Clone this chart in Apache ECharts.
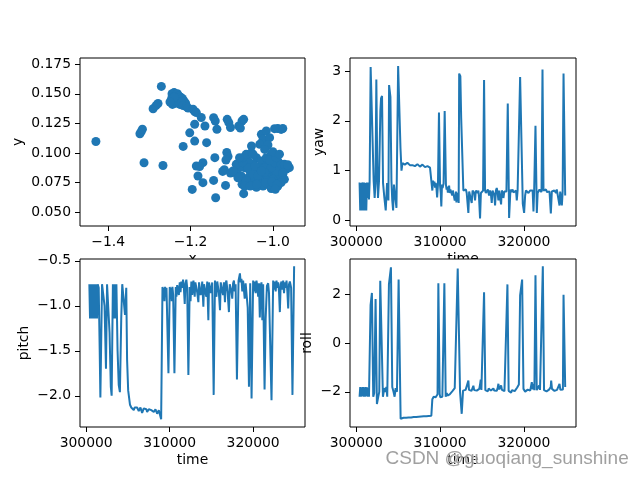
<!DOCTYPE html>
<html>
<head>
<meta charset="utf-8">
<script src="https://cdn.jsdelivr.net/npm/echarts@6/dist/echarts.min.js"></script>
<style>html,body{margin:0;padding:0;background:#fff}#c{width:640px;height:480px}</style>
</head>
<body>
<div id="c"></div>
<script>
// ---------- data ----------
const scatterXY = [
[-1.430,0.1097],[-1.271,0.1562],[-1.291,0.1373],[-1.284,0.1400],[-1.279,0.1418],
[-1.323,0.1162],[-1.320,0.1180],[-1.317,0.1201],[-1.313,0.0917],[-1.267,0.0894],
[-1.245,0.1500],[-1.240,0.1510],[-1.236,0.1490],[-1.232,0.1500],[-1.228,0.1480],[-1.224,0.1470],
[-1.220,0.1460],[-1.216,0.1440],[-1.212,0.1420],[-1.246,0.1460],[-1.242,0.1440],[-1.238,0.1420],
[-1.244,0.1410],[-1.234,0.1450],[-1.230,0.1430],[-1.226,0.1410],[-1.222,0.1430],[-1.218,0.1400],
[-1.210,0.1390],[-1.206,0.1380],[-1.240,0.1470],[-1.250,0.1430],
[-1.194,0.1369],[-1.190,0.1350],[-1.186,0.1341],[-1.174,0.1299],
[-1.190,0.1242],[-1.165,0.1228],[-1.144,0.1298],[-1.140,0.1270],[-1.136,0.1200],
[-1.111,0.1284],[-1.107,0.1256],[-1.103,0.1214],[-1.083,0.1228],[-1.075,0.1270],[-1.071,0.1284],[-1.079,0.1210],
[-1.202,0.1170],[-1.190,0.1100],[-1.218,0.1055],[-1.161,0.1087],
[-1.186,0.0890],[-1.170,0.0918],[-1.178,0.0886],[-1.141,0.0960],
[-1.182,0.0805],[-1.170,0.0749],[-1.196,0.0692],[-1.144,0.0768],[-1.115,0.0726],[-1.139,0.0622],
[-1.112,0.1004],[-1.109,0.0970],[-1.114,0.0940],
[-1.118,0.0858],[-1.122,0.0844],[-1.103,0.0830],
[-1.071,0.0656],[-1.075,0.0735],
[-1.040,0.0960],[-1.028,0.0932],[-1.016,0.0960],[-1.004,0.0988],[-1.000,0.0904],[-0.988,0.0932],
[-0.984,0.0876],[-1.008,0.0848],[-1.024,0.0819],[-1.040,0.0834],[-1.056,0.0848],[-1.069,0.0876],
[-1.081,0.0876],[-1.089,0.0904],[-1.093,0.0834],[-1.077,0.0806],[-1.060,0.0791],[-1.044,0.0777],
[-1.028,0.0763],[-1.012,0.0791],[-0.996,0.0806],[-0.984,0.0791],[-0.972,0.0777],[-0.992,0.0848],
[-1.032,0.0876],[-1.048,0.0904],[-1.060,0.0932],[-1.073,0.0918],[-1.085,0.0791],[-1.097,0.0848],
[-1.073,0.0960],[-1.065,0.0988],[-1.052,0.1003],[-1.081,0.0960],[-1.012,0.0904],[-1.020,0.0876],
[-1.004,0.0876],[-0.996,0.0918],[-0.980,0.0904],[-0.968,0.0862],[-0.976,0.0820],[-1.000,0.0777],
[-1.016,0.0735],[-1.036,0.0749],[-1.052,0.0735],[-1.065,0.0763],[-1.060,0.0870],[-1.048,0.0820],
[-1.036,0.0806],[-1.020,0.0834],[-1.008,0.0940],[-0.992,0.0960],[-1.044,0.0890],[-1.028,0.0848],
[-0.988,0.0720],[-0.980,0.0750],[-1.004,0.0700],[-1.024,0.0720],[-1.040,0.0710],[-1.069,0.0720],
[-1.052,0.1059],[-1.048,0.0988],[-1.028,0.1157],[-1.016,0.1185],[-1.024,0.1115],[-1.008,0.1129],
[-1.032,0.1073],[-1.012,0.1067],[-0.988,0.1207],[-0.976,0.1207],[-0.980,0.1199],[-0.996,0.1205],
[-1.020,0.1030],[-1.000,0.1010],[-0.984,0.0990],
[-0.960,0.0876],[-0.972,0.0904],[-0.976,0.0834],[-0.964,0.0900],
[-1.055,0.0721],[-1.039,0.0735],[-1.018,0.0749],[-1.002,0.0757],[-0.990,0.0735],[-0.994,0.0693]
];

const yawData = [
[300400,0.76],[300480,0.20],[300560,0.75],[300640,0.20],[300720,0.76],[300800,0.70],[300880,0.20],
[300960,0.76],[301040,0.20],[301120,0.75],[301200,0.20],[301280,0.76],[301360,0.45],[301440,0.76],
[301520,0.42],[301600,0.76],[301720,3.08],[301880,3.05],[302080,0.80],[302200,0.45],[302300,0.75],
[302400,2.83],[302520,0.90],[302600,0.45],[302720,0.80],[302880,2.20],[302960,2.45],[303080,2.50],
[303200,0.75],[303360,0.45],[303520,0.20],[303680,0.75],[303840,0.40],[303920,2.72],[304080,2.48],
[304200,0.80],[304300,0.40],[304400,0.20],[304500,0.72],[304600,0.75],[304700,0.40],[304800,0.25],
[305000,3.10],[305120,3.10],[305280,1.45],[305400,1.00],[305520,1.15],
[305600,1.13],[305700,1.16],[305800,1.12],[305900,1.15],[306000,1.13],[306100,1.16],[306200,1.12],
[306300,1.14],[306400,1.11],[306500,1.14],[306600,1.12],[306700,1.11],[306800,1.14],[306900,1.12],
[307000,1.09],[307100,1.12],[307200,1.10],[307300,1.13],[307400,1.09],[307500,1.11],[307600,1.08],
[307700,1.11],[307800,1.09],[307900,1.12],[308000,1.08],[308100,1.10],[308200,1.07],[308300,1.10],
[308400,1.08],[308500,1.09],[308600,1.06],[308700,1.08],[308800,1.06],[308950,1.07],
[309080,0.60],[309160,0.80],[309240,0.70],[309320,0.78],[309400,0.66],[309480,0.75],[309550,0.70],
[309650,0.46],[309750,0.72],[309870,2.17],[310000,0.70],[310080,0.55],[310150,0.28],[310230,0.72],
[310300,0.65],[310420,0.74],[310550,2.20],[310700,0.72],[310780,0.62],[310850,0.68],[310930,0.56],
[311000,0.62],[311080,0.70],[311150,0.55],[311230,0.62],[311300,0.58],[311380,0.64],[311450,0.50],
[311530,0.60],[311600,0.56],[311680,0.62],[311750,0.40],[311850,0.45],[311900,0.58],[311950,0.36],
[312030,0.55],[312100,0.42],[312160,0.56],[312220,0.35],[312280,2.95],[312420,2.90],[312520,2.05],
[312620,2.05],
[312780,0.60],[312880,0.56],[312980,0.58],[313080,0.62],[313177,0.55],[313280,0.58],[313376,0.15],
[313470,0.58],[313575,0.55],[313680,0.60],[313775,0.35],[313880,0.60],[313974,0.58],[314080,0.55],
[314173,0.40],[314270,0.60],[314372,0.58],[314491,0.55],[314570,0.60],[314650,0.45],[314770,0.04],
[314870,0.55],[314970,0.58],[315050,0.55],[315130,0.60],[315248,2.82],[315367,0.60],[315460,0.55],
[315567,0.58],[315700,0.62],[315845,0.50],[315950,0.60],[316050,0.55],[316164,0.35],[316260,0.60],
[316363,0.58],[316460,0.52],[316562,0.30],[316660,0.60],[316761,0.65],[316860,0.56],[316960,0.40],
[317040,0.60],[317120,0.58],[317200,0.62],[317279,0.32],[317360,0.60],[317438,0.58],[317500,0.55],
[317558,0.45],[317660,0.58],[317757,0.60],[317840,0.56],[317916,0.58],[318075,2.35],[318234,0.05],
[318394,0.62],[318480,0.57],[318553,0.58],[318650,0.62],[318760,0.56],[318872,0.60],[318980,0.57],
[319060,0.60],[319150,0.40],[319250,0.60],[319349,0.58],[319450,0.56],[319549,2.88],[319708,2.88],
[319867,0.33],[320026,0.15],[320146,0.50],[320245,0.60],[320345,0.58],[320440,0.62],[320544,0.55],
[320640,0.58],[320743,0.60],[320840,0.56],[320942,0.58],[321040,0.60],[321141,0.18],[321220,0.58],
[321300,0.55],[321380,1.90],[321540,0.15],[321640,0.55],[321739,0.58],[321860,0.62],[321978,0.60],
[322100,0.57],[322217,3.03],[322336,0.60],[322440,0.56],[322535,0.58],[322640,0.62],[322750,0.57],
[322854,0.60],[322950,0.56],[323053,0.58],[323130,0.60],[323212,0.14],[323332,0.58],[323430,0.62],
[323530,0.56],[323630,0.60],[323730,0.60],[323830,0.55],[323920,0.62],[324009,0.58],[324129,0.60],
[324248,0.30],[324330,0.58],[324407,0.62],[324527,0.30],[324620,0.58],[324726,2.95],[324925,0.50]
];

const pitchData = [
[300380,-0.76],[300460,-1.14],[300540,-0.76],[300620,-1.14],[300700,-0.76],[300780,-1.14],[300860,-0.76],
[300960,-1.14],[301040,-0.76],[301120,-1.14],[301200,-0.76],[301300,-1.14],[301380,-0.76],[301500,-0.80],
[301620,-1.50],[301700,-2.02],[301780,-2.00],[301900,-0.76],[302050,-0.78],[302200,-1.00],[302370,-1.70],
[302500,-0.76],[302650,-0.76],[302800,-1.30],[302950,-1.90],[303050,-2.00],[303200,-0.76],[303300,-1.14],
[303400,-0.76],[303500,-1.14],[303620,-0.76],[303760,-1.50],[303900,-1.88],[304040,-1.96],[304200,-1.14],
[304320,-0.76],[304500,-0.76],[304650,-1.10],[304800,-0.80],[304900,-1.60],[305030,-1.94],[305150,-1.95],
[305250,-2.10],[305400,-2.13],[305500,-2.15],[305600,-2.14],[305700,-2.16],[305800,-2.13],[305900,-2.15],
[306000,-2.15],[306100,-2.13],[306200,-2.14],[306300,-2.17],[306400,-2.16],[306500,-2.13],[306600,-2.14],
[306700,-2.19],[306800,-2.17],[306900,-2.14],[307000,-2.13],[307100,-2.16],[307200,-2.15],[307300,-2.18],
[307400,-2.18],[307500,-2.15],[307600,-2.14],[307700,-2.17],[307800,-2.16],[307900,-2.14],[308000,-2.15],
[308100,-2.18],[308200,-2.17],[308300,-2.15],[308400,-2.16],[308500,-2.20],[308600,-2.19],[308700,-2.16],
[308800,-2.18],[308980,-2.26],
[309140,-0.79],[309220,-0.92],[309300,-0.80],[309380,-0.95],[309450,-0.79],[309530,-0.90],[309620,-0.80],
[309700,-0.78],[309854,-1.75],[310010,-0.79],[310090,-0.92],[310170,-0.80],[310250,-0.95],[310330,-0.79],
[310420,-0.88],[310571,-1.75],[310730,-0.79],[310810,-0.90],[310900,-0.77],[311008,-0.76],[311100,-0.88],
[311208,-0.74],[311300,-0.85],[311400,-0.73],[311500,-0.80],[311606,-0.71],[311700,-0.80],[311805,-0.98],
[311900,-0.75],[312000,-0.71],[312100,-0.80],[312243,-1.77],[312400,-0.79],[312500,-0.95],[312600,-0.73],
[312700,-0.88],[312850,-0.72],[313000,-0.90],[313080,-0.74],[313150,-0.72],[313300,-0.85],[313440,-0.96],
[313520,-0.74],[313600,-0.72],[313700,-0.88],[313800,-0.85],[313900,-0.73],[314037,-1.01],[314120,-0.76],
[314200,-0.74],[314300,-0.86],[314400,-0.90],[314500,-0.73],[314635,-1.16],[314720,-0.74],[314800,-0.72],
[314900,-0.86],[315000,-0.80],[315100,-0.74],[315272,-1.99],[315430,-0.72],[315520,-0.84],[315600,-0.90],
[315700,-0.73],[315800,-0.74],[315900,-0.86],[316030,-1.05],[316120,-0.74],[316200,-0.72],[316300,-0.84],
[316400,-0.88],[316500,-0.74],[316625,-0.96],[316700,-0.75],[316800,-0.72],[316950,-0.86],[317100,-1.07],
[317200,-0.76],[317300,-0.74],[317400,-0.84],[317500,-0.92],[317600,-0.75],[317700,-0.72],[317800,-0.84],
[317900,-0.76],[318060,-1.82],[318250,-0.72],[318418,-0.64],[318500,-0.74],[318600,-0.70],[318700,-0.84],
[318800,-0.72],[318990,-0.92],[319100,-0.75],[319200,-0.74],[319350,-1.02],[319500,-1.90],[319650,-0.75],
[319812,-2.03],[320000,-0.72],[320100,-0.84],[320200,-0.73],[320300,-0.86],[320400,-0.72],[320500,-0.78],
[320600,-0.90],[320700,-0.75],[320800,-1.13],[320900,-0.78],[321000,-0.74],[321100,-1.16],[321200,-0.76],
[321370,-1.93],[321500,-1.14],[321650,-0.78],[321800,-0.75],[321900,-0.86],[322000,-0.85],[322202,-2.05],
[322400,-0.72],[322500,-0.82],[322600,-0.73],[322700,-0.84],[322800,-0.72],[322900,-0.80],[323000,-0.74],
[323100,-0.84],[323200,-1.07],[323300,-0.76],[323400,-0.73],[323500,-0.82],[323600,-0.72],[323700,-0.86],
[323800,-0.74],[323900,-0.80],[324000,-0.72],[324100,-0.84],[324200,-1.03],[324300,-0.76],[324400,-0.73],
[324550,-0.80],[324711,-1.99],[324910,-0.56]
];

const rollData = [
[300400,-2.20],[300480,-1.80],[300560,-2.20],[300640,-1.82],[300720,-2.18],[300800,-1.80],[300880,-2.20],
[300960,-1.82],[301040,-2.20],[301120,-1.80],[301200,-2.18],[301280,-1.82],[301360,-2.20],[301440,-1.85],
[301520,-2.20],[301600,-2.15],[301712,1.55],[301872,2.05],[302031,-2.20],[302150,-2.05],[302310,1.80],
[302469,-2.50],[302628,-2.20],[302750,-2.00],[302867,2.55],[303026,2.50],[303186,-2.20],[303350,-1.85],
[303504,-2.00],[303600,-1.80],[303700,-2.20],[303902,2.40],[304141,3.10],[304300,-1.80],[304450,-2.00],
[304579,-2.20],[304700,-1.85],[304858,-2.00],[305057,2.60],[305177,2.60],[305296,-3.10],
[305400,-3.07],[305500,-3.09],[305650,-3.06],[305800,-3.10],[305950,-3.06],[306100,-3.08],[306250,-3.05],
[306400,-3.08],[306550,-3.05],[306700,-3.06],[306850,-3.03],[307000,-3.06],[307150,-3.03],[307300,-3.05],
[307450,-3.02],[307600,-3.05],[307750,-3.01],[307900,-3.03],[308050,-3.00],[308200,-3.03],[308350,-3.00],
[308500,-3.02],[308650,-2.99],[308800,-3.01],[308960,-2.98],
[309079,-2.30],[309238,-2.20],[309320,-2.25],[309400,-2.18],[309480,-2.22],[309557,-2.15],[309700,-2.10],
[309796,2.45],[309956,-2.10],[310030,-2.22],[310100,-2.18],[310180,-2.24],[310274,-2.20],[310513,2.45],
[310672,-2.20],[310740,-2.12],[310800,-2.05],[310880,-2.15],[310950,-2.10],[311050,-2.16],[311150,-2.10],
[311250,-2.04],[311350,-2.05],[311450,-1.98],[311548,-1.95],[311650,-1.90],[311750,-1.85],[311850,-1.90],
[311946,-1.80],[312106,3.05],[312225,3.05],[312384,-2.00],[312583,-2.90],
[312742,-1.95],[312850,-1.90],[312950,-1.97],[313050,-1.92],[313150,-1.98],[313260,-1.90],[313377,-1.54],
[313450,-1.92],[313550,-1.97],[313650,-1.90],[313750,-1.96],[313860,-1.88],[313974,-1.75],[314070,-1.93],
[314180,-1.97],[314280,-1.90],[314380,-1.95],[314480,-1.90],[314580,-1.97],[314680,-1.88],[314770,-1.70],
[314850,-1.50],[314930,-1.92],[315030,-1.97],[315130,-1.90],[315248,2.08],[315400,-1.93],[315500,-1.97],
[315600,-1.90],[315700,-1.98],[315800,-1.86],[315900,-1.92],[315960,-1.80],[316060,-1.95],[316160,-1.88],
[316260,-1.96],[316360,-1.86],[316460,-1.95],[316560,-1.99],[316660,-1.90],[316760,-1.96],[316860,-1.86],
[316960,-1.67],[317060,-1.90],[317160,-1.96],[317280,-1.74],[317380,-1.92],[317480,-1.98],[317580,-1.92],
[317680,-1.97],[317800,-1.91],[317900,-1.96],[318035,2.40],[318180,-1.96],[318280,-1.99],[318380,-1.92],
[318473,-2.03],[318580,-1.93],[318680,-1.98],[318800,-1.92],[318900,-1.97],[319000,-1.90],[319100,-1.95],
[319200,-1.82],[319300,-1.90],[319400,-1.70],[319549,1.95],[319668,1.98],[319788,2.60],[319947,-1.88],
[320050,-1.95],[320150,-1.99],[320250,-1.92],[320350,-1.97],[320450,-1.91],[320550,-1.96],[320650,-1.90],
[320750,-1.95],[320850,-1.88],[320942,-1.60],[321040,-1.90],[321141,-1.67],[321250,-1.93],[321380,2.77],
[321530,-1.93],[321630,-1.97],[321720,-1.90],[321820,-1.74],[321920,-1.92],[322020,-1.97],[322130,-1.90],
[322256,3.14],[322400,-1.93],[322500,-1.97],[322600,-1.91],[322700,-1.98],[322800,-1.92],[322900,-1.96],
[323000,-1.91],[323100,-1.95],[323200,-1.80],[323252,-1.54],[323350,-1.88],[323450,-1.95],[323550,-1.90],
[323650,-1.96],[323750,-1.91],[323850,-1.97],[323950,-1.92],[324050,-1.96],[324129,-1.90],[324248,-1.67],
[324350,-1.92],[324447,-1.88],[324560,-1.95],[324650,-1.90],[324726,1.98],[324925,-1.80]
];

const scatterXTicks = [-1.4, -1.2, -1.0];
const scatterYTicks = [0.050, 0.075, 0.100, 0.125, 0.150, 0.175];
const timeTicks = [300000, 310000, 320000];
const yawTicks = [0, 1, 2, 3];
const pitchTicks = [-2.0, -1.5, -1.0, -0.5];
const rollTicks = [-2, 0, 2];

// ---------- chart ----------
const FONT = 'DejaVu Sans';
const BLUE = '#1f77b4';
const FS = 13.9;
function fmt(dec) {
  return v => (dec === 0 ? String(Math.round(v)) : Number(v).toFixed(dec)).replace('-', '\u2212');
}
function axis(gi, min, max, ticks, dec, name, gap, isY, z) {
  return {
    type: 'value', gridIndex: gi, min: min, max: max, z: z,
    name: name, nameLocation: 'middle', nameGap: gap, nameRotate: isY ? 90 : 0,
    nameTextStyle: { fontFamily: FONT, fontSize: FS, color: '#000' },
    axisLine: { show: false, onZero: false },
    axisTick: { show: true, length: 5, customValues: ticks, lineStyle: { color: '#000', width: 1 } },
    axisLabel: { customValues: ticks, formatter: fmt(dec), fontFamily: FONT, fontSize: FS, color: '#000', margin: 9 },
    splitLine: { show: false }
  };
}
function grid(left, top, w, h, z) {
  return { left: left, top: top, width: w, height: h, show: true, z: z,
           backgroundColor: '#fff', borderColor: '#000', borderWidth: 1 };
}
const chart = echarts.init(document.getElementById('c'), null, { renderer: 'canvas' });
chart.setOption({
  animation: false,
  backgroundColor: '#fff',
  grid: [
    grid(80, 58, 225, 168, 0),
    grid(350, 58, 226, 168, 0),
    grid(80, 259, 225, 168, 3),
    grid(350, 259, 226, 168, 3)
  ],
  xAxis: [
    axis(0, -1.4686, -0.922, scatterXTicks, 1, 'x', 26, false, 1),
    axis(1, 299259, 326213, timeTicks, 0, 'time', 26, false, 1),
    axis(2, 299259, 326213, timeTicks, 0, 'time', 26, false, 4),
    axis(3, 299259, 326213, timeTicks, 0, 'time', 26, false, 4)
  ],
  yAxis: [
    axis(0, 0.0383, 0.1802, scatterYTicks, 3, 'y', 55, true, 1),
    axis(1, -0.1125, 3.263, yawTicks, 0, 'yaw', 24, true, 1),
    axis(2, -2.347, -0.48, pitchTicks, 1, 'pitch', 49, true, 4),
    axis(3, -3.44, 3.44, rollTicks, 0, 'roll', 36, true, 4)
  ],
  series: [
    { type: 'scatter', xAxisIndex: 0, yAxisIndex: 0, data: scatterXY, symbolSize: 9,
      itemStyle: { color: BLUE, opacity: 1 }, z: 2 },
    { type: 'line', xAxisIndex: 1, yAxisIndex: 1, data: yawData, showSymbol: false,
      lineStyle: { color: BLUE, width: 2 }, z: 2 },
    { type: 'line', xAxisIndex: 2, yAxisIndex: 2, data: pitchData, showSymbol: false,
      lineStyle: { color: BLUE, width: 2 }, z: 5 },
    { type: 'line', xAxisIndex: 3, yAxisIndex: 3, data: rollData, showSymbol: false,
      lineStyle: { color: BLUE, width: 2 }, z: 5 }
  ],
  graphic: [{
    type: 'text', left: 385, top: 449, z: 100,
    style: { text: 'CSDN @guoqiang_sunshine', font: '19px "Liberation Sans", Arial, sans-serif',
             fill: 'rgba(150,150,150,0.9)', stroke: 'rgba(255,255,255,0.7)', lineWidth: 1 }
  }]
});
</script>
</body>
</html>
